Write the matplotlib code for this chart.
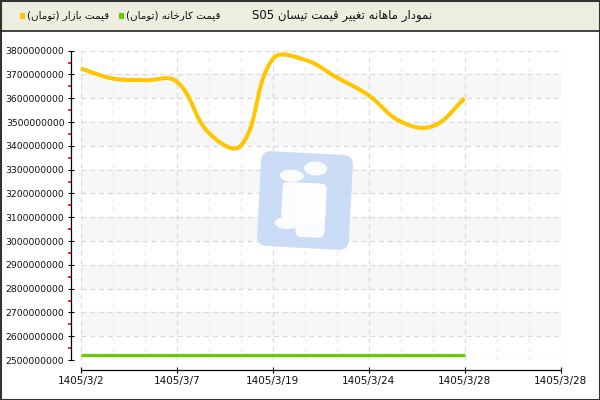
import numpy as np
import matplotlib
matplotlib.use("Agg")
import matplotlib.pyplot as plt
from matplotlib.patches import Rectangle, FancyBboxPatch, Ellipse
from matplotlib.transforms import Affine2D
import re

# ---- data ----
title = "نمودار ماهانه تغییر قیمت تیسان S05"
series_names = ["قیمت بازار (تومان)", "قیمت کارخانه (تومان)"]
series_colors = ["#ffc600", "#66cc00"]
tick_labels = ["1405/3/2", "1405/3/7", "1405/3/19", "1405/3/24", "1405/3/28", "1405/3/28"]
market_price = [3725, 3683, 3676, 3670, 3455, 3400, 3765, 3762, 3688, 3612, 3502, 3483, 3599]  # million
factory_price = [2520] * 13  # million

# ---- minimal persian shaping (matplotlib does not shape / reorder RTL) ----
FORMS = {
    'ا': ('\uFE8D', '\uFE8E', None, None),
    'ب': ('\uFE8F', '\uFE90', '\uFE91', '\uFE92'),
    'ت': ('\uFE95', '\uFE96', '\uFE97', '\uFE98'),
    'خ': ('\uFEA5', '\uFEA6', '\uFEA7', '\uFEA8'),
    'د': ('\uFEA9', '\uFEAA', None, None),
    'ر': ('\uFEAD', '\uFEAE', None, None),
    'ز': ('\uFEAF', '\uFEB0', None, None),
    'س': ('\uFEB1', '\uFEB2', '\uFEB3', '\uFEB4'),
    'غ': ('\uFECD', '\uFECE', '\uFECF', '\uFED0'),
    'ق': ('\uFED5', '\uFED6', '\uFED7', '\uFED8'),
    'ک': ('\uFB8E', '\uFB8F', '\uFB90', '\uFB91'),
    'م': ('\uFEE1', '\uFEE2', '\uFEE3', '\uFEE4'),
    'ن': ('\uFEE5', '\uFEE6', '\uFEE7', '\uFEE8'),
    'ه': ('\uFEE9', '\uFEEA', '\uFEEB', '\uFEEC'),
    'و': ('\uFEED', '\uFEEE', None, None),
    'ی': ('\uFBFC', '\uFBFD', '\uFBFE', '\uFBFF'),
}


def rtl(s):
    out = []
    for i, c in enumerate(s):
        if c not in FORMS:
            out.append(c)
            continue
        p = s[i - 1] if i > 0 else ''
        n = s[i + 1] if i + 1 < len(s) else ''
        jp = p in FORMS and FORMS[p][2] is not None
        jn = n in FORMS and FORMS[c][2] is not None
        f = FORMS[c]
        out.append(f[3] if jp and jn else f[1] if jp else f[2] if jn else f[0])
    shaped = ''.join(out)
    tokens = re.findall(r'[A-Za-z0-9]+|.', shaped)
    mirror = {'(': ')', ')': '('}
    return ''.join(t if re.match(r'[A-Za-z0-9]', t) else mirror.get(t, t) for t in reversed(tokens))


W, H = 600, 400
x0_px, x1_px = 80.7, 560.7
ytop_px, ybot_px = 50.7, 360.0
ymin, ymax = 2500, 3800
px2pt = 72.0 / 100

fig = plt.figure(figsize=(6, 4), dpi=100)
fig.patch.set_facecolor("white")
ax = fig.add_axes([x0_px / W, 1 - ybot_px / H, (x1_px - x0_px) / W, (ybot_px - ytop_px) / H])
ax.set_xlim(0, 15)
ax.set_ylim(ymin, ymax)

# alternating bands
for lo in range(2600, 3700, 200):
    ax.axhspan(lo, lo + 100, color="#f7f7f7", zorder=0, lw=0)

# grid
ax.set_xticks(np.arange(0, 16, 3))
ax.set_xticks(np.arange(0, 16, 1), minor=True)
ax.set_xticklabels(tick_labels)
ax.set_yticks(np.arange(ymin, ymax + 1, 100))
ax.set_yticks(np.arange(ymin + 50, ymax, 100), minor=True)
ax.set_yticklabels([f"{v * 1000000}" for v in range(ymin, ymax + 1, 100)])
for x in np.arange(0, 16, 1):
    major = x % 3 == 0
    ax.axvline(x, color="#dadada" if major else "#eeeeee", lw=0.9, ls=(0, (4, 3)), zorder=1)
for y in range(ymin, ymax + 1, 100):
    ax.axhline(y, color="#dadada", lw=0.9, ls=(0, (4, 3)), zorder=1)

# spines / ticks
for s in ["top", "right"]:
    ax.spines[s].set_visible(False)
ax.spines["left"].set_position(("outward", 10 * px2pt))
ax.spines["bottom"].set_position(("outward", 10 * px2pt))
for s in ["left", "bottom"]:
    ax.spines[s].set_linewidth(0.9)
    ax.spines[s].set_color("black")
ax.tick_params(axis="y", which="major", direction="inout", length=4, width=0.8, pad=2.5,
               labelsize=6.7, labelcolor="#111111")
ax.tick_params(axis="y", which="minor", direction="out", length=2.2, width=1.2, color="#ff0000")
ax.tick_params(axis="x", which="major", direction="inout", length=5, width=0.8, pad=2,
               labelsize=7.5, labelcolor="#111111")
ax.tick_params(axis="x", which="minor", length=0)


# smooth line (bezier spline done in pixel space, like the original chart)
def spline(xs, ys, tension=0.4, steps=20):
    sx = (x1_px - x0_px) / 15.0
    sy = (ybot_px - ytop_px) / (ymax - ymin)
    P = np.column_stack([np.asarray(xs, float) * sx, np.asarray(ys, float) * sy])
    n = len(P)
    cp_prev = P.copy()
    cp_next = P.copy()
    for i in range(n):
        a = P[max(i - 1, 0)]
        c = P[min(i + 1, n - 1)]
        d01 = np.hypot(*(P[i] - a))
        d12 = np.hypot(*(c - P[i]))
        tot = d01 + d12
        if tot == 0:
            continue
        cp_prev[i] = P[i] - tension * d01 / tot * (c - a)
        cp_next[i] = P[i] + tension * d12 / tot * (c - a)
    t = np.linspace(0, 1, steps)[:, None]
    pts = []
    for i in range(n - 1):
        b = ((1 - t) ** 3 * P[i] + 3 * (1 - t) ** 2 * t * cp_next[i]
             + 3 * (1 - t) * t ** 2 * cp_prev[i + 1] + t ** 3 * P[i + 1])
        pts.append(b if i == 0 else b[1:])
    pts = np.vstack(pts)
    return pts[:, 0] / sx, pts[:, 1] / sy


idx = np.arange(len(market_price))
mx, my = spline(idx, market_price)
ax.plot(mx, my, color=series_colors[0], lw=2.9, solid_capstyle="butt", zorder=5, clip_on=False)
ax.plot(np.arange(len(factory_price)), factory_price, color=series_colors[1], lw=2.3,
        solid_capstyle="butt", zorder=5, clip_on=False)

# ---- overlay in pixel coordinates: header, frame, watermark ----
ov = fig.add_axes([0, 0, 1, 1], zorder=10)
ov.set_xlim(0, W)
ov.set_ylim(H, 0)
ov.axis("off")

# watermark
rot = Affine2D().rotate_deg_around(305, 200, 3) + ov.transData
ov.add_patch(FancyBboxPatch((259, 153), 92, 95, boxstyle="round,pad=0,rounding_size=10",
                            fc="#c6daf6", ec="none", alpha=0.9, transform=rot))
white = dict(fc="white", ec="none", alpha=0.92, transform=rot)
ov.add_patch(Ellipse((290.5, 176.5), 24, 12, **white))
ov.add_patch(Ellipse((314, 168), 23, 14, **white))
ov.add_patch(FancyBboxPatch((282, 183), 44, 37, boxstyle="round,pad=0,rounding_size=5", **white))
ov.add_patch(FancyBboxPatch((297, 183), 29, 54, boxstyle="round,pad=0,rounding_size=6", **white))
ov.add_patch(Ellipse((288, 224), 24, 12, **white))

# header
ov.add_patch(Rectangle((0, 0), W, 30, fc="#eeeee0", ec="none"))
ov.plot([0, W], [30.5, 30.5], color="#222222", lw=1.2)
ov.add_patch(Rectangle((0.5, 0.5), W - 1, H - 1, fc="none", ec="#333333", lw=1.5))

ov.text(432.5, 15.5, rtl(title), ha="right", va="center", fontsize=8.5, color="#111111",
        family=["DejaVu Sans"])
legend_right = [109, 221]
legend_square = [20, 118.6]
for name, col, xr, xs in zip(series_names, series_colors, legend_right, legend_square):
    ov.add_patch(Rectangle((xs, 13), 5, 5.5, fc=col, ec="none"))
    ov.text(xr, 15, rtl(name), ha="right", va="center", fontsize=7.5, color="#111111",
            family=["DejaVu Sans"])

fig.savefig("out.png", dpi=100)
